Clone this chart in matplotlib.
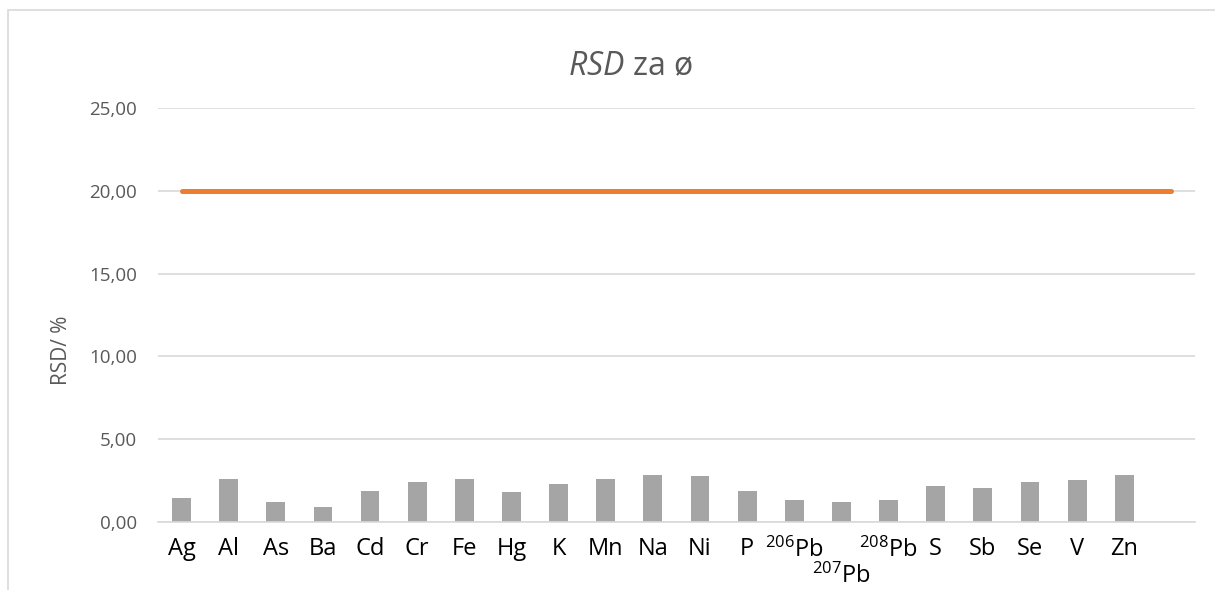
import numpy as np
import matplotlib
matplotlib.use("Agg")
import matplotlib.pyplot as plt
from matplotlib.patches import Rectangle
from matplotlib.ticker import FuncFormatter

plt.rcParams['font.family'] = ['Open Sans', 'DejaVu Sans']
plt.rcParams['mathtext.fontset'] = 'custom'
plt.rcParams['mathtext.rm'] = 'Open Sans'
plt.rcParams['mathtext.it'] = 'Open Sans:italic'

# data
elements = ["Ag", "Al", "As", "Ba", "Cd", "Cr", "Fe", "Hg", "K", "Mn", "Na", "Ni", "P",
            "$^{206}$Pb", "$^{207}$Pb", "$^{208}$Pb", "S", "Sb", "Se", "V", "Zn", ""]
rsd = [1.46, 2.59, 1.19, 0.93, 1.86, 2.41, 2.59, 1.80, 2.29, 2.61, 2.83, 2.79, 1.88,
       1.32, 1.19, 1.32, 2.19, 2.04, 2.43, 2.53, 2.81, np.nan]
limit = [20.0] * 22

fig = plt.figure(figsize=(12.15, 5.9), dpi=100)
ax = fig.add_axes([0.130, 0.1153, 0.8535, 0.7017])

# chart border (top and left visible)
fig.patches.append(Rectangle((8 / 1215, -0.1), 1.2, 1 - 10 / 590 + 0.1, transform=fig.transFigure,
                             fill=False, edgecolor="#d9d9d9", linewidth=1.2))

x = np.arange(len(elements))
ax.bar(x, rsd, width=0.4, color="#a5a5a5", zorder=2)
ax.plot(x, limit, color="#ed7d31", linewidth=3.6, solid_capstyle="round", zorder=3)

ax.set_xlim(-0.5, len(elements) - 0.5)
ax.set_ylim(0, 25)
ax.set_yticks(np.arange(0, 26, 5))
ax.yaxis.set_major_formatter(FuncFormatter(lambda v, p: f"{v:.2f}".replace(".", ",")))
ax.grid(axis="y", color="#d9d9d9", linewidth=1.2, zorder=0)
for s in ["top", "right", "left"]:
    ax.spines[s].set_visible(False)
ax.spines["bottom"].set_color("#d9d9d9")
ax.spines["bottom"].set_linewidth(1.2)

ax.set_xticks(x)
ax.set_xticklabels(elements, fontsize=17, color="black")
ax.tick_params(axis="x", length=0, pad=11)
ax.tick_params(axis="y", length=0, pad=15, labelsize=13.5, labelcolor="#595959")
ax.xaxis.get_major_ticks()[14].set_pad(30)

ax.set_ylabel("RSD/ %", fontsize=15, color="#595959")
ax.yaxis.set_label_coords(-0.083, 0.415)
fig.text(630 / 1215, 1 - 67 / 590, "$\\mathit{RSD}$ za ø", fontsize=23, color="#595959",
         ha="center", va="center")

fig.savefig("out.png", dpi=100, facecolor="white")
